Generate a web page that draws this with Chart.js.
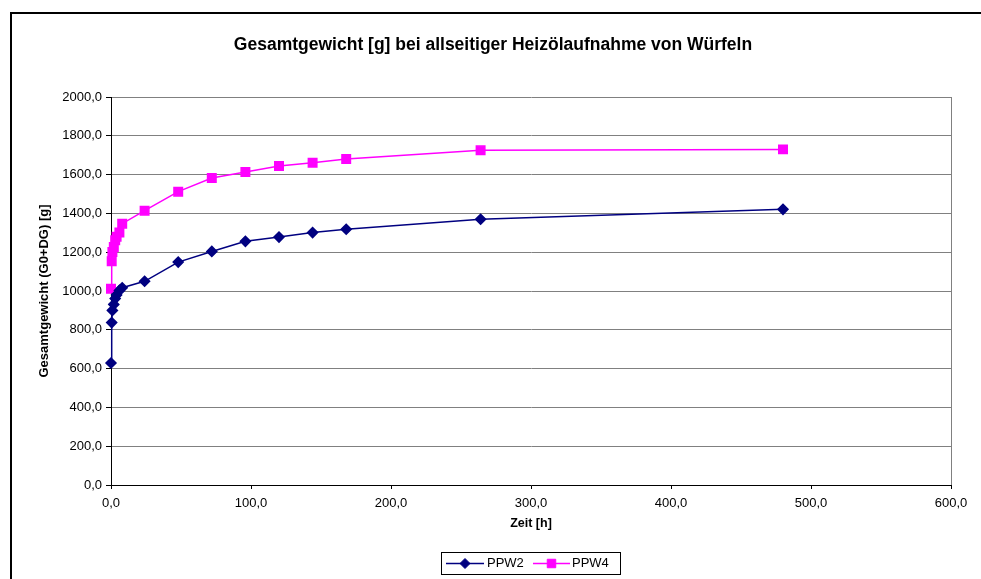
<!DOCTYPE html>
<html>
<head>
<meta charset="utf-8">
<script src="https://cdn.jsdelivr.net/npm/chart.js@4.4.0/dist/chart.umd.min.js"></script>
<style>
  html, body { margin: 0; padding: 0; background: #fff; }
  #wrap { width: 981px; height: 579px; }
</style>
</head>
<body>
<div id="wrap"><canvas id="chart" width="981" height="579"></canvas></div>
<script>
// Werte
const timeHours = [0, 0.5, 1, 2, 3, 4, 6, 8, 24, 48, 72, 96, 120, 144, 168, 264, 480];
const ppw2 = [629, 837, 900, 931, 961, 980, 1003, 1017, 1050, 1149, 1204, 1256, 1278, 1301, 1318, 1370, 1421];
const ppw4 = [1012, 1153, 1201, 1227, 1261, 1280, 1301, 1347, 1414, 1512, 1582, 1613, 1644, 1661, 1680, 1725, 1730];
const seriesNames = ["PPW2", "PPW4"];

const FONT = "'Liberation Sans', Arial, sans-serif";

function toPoints(ys) {
    return timeHours.map((t, i) => ({ x: t, y: ys[i] }));
}

function fmt(v) {
    return Number(v).toFixed(1).replace(".", ",");
}

// Rahmen, rechte Plotkante und Legende
const extras = {
    id: "extras",
    beforeDraw(chart) {
        const ctx = chart.ctx;
        ctx.save();
        ctx.strokeStyle = "#000";
        ctx.lineWidth = 2;
        ctx.strokeRect(11, 13, 1100, 1000);
        ctx.restore();
    },
    beforeDatasetsDraw(chart) {
        const { ctx, chartArea } = chart;
        ctx.save();
        ctx.strokeStyle = "#808080";
        ctx.lineWidth = 1;
        ctx.beginPath();
        ctx.moveTo(Math.round(chartArea.right) + 0.5, chartArea.top);
        ctx.lineTo(Math.round(chartArea.right) + 0.5, chartArea.bottom);
        ctx.stroke();
        ctx.restore();
    },
    afterDraw(chart) {
        const ctx = chart.ctx;
        ctx.save();
        ctx.strokeStyle = "#000";
        ctx.lineWidth = 1;
        ctx.strokeRect(441.5, 552.5, 179, 22);
        const items = [
            { ds: chart.data.datasets[0], x0: 446, x1: 484, text: 487 },
            { ds: chart.data.datasets[1], x0: 533, x1: 570, text: 572 },
        ];
        const y = 563.5;
        items.forEach(it => {
            ctx.strokeStyle = it.ds.borderColor;
            ctx.lineWidth = it.ds.borderWidth;
            ctx.beginPath();
            ctx.moveTo(it.x0, y);
            ctx.lineTo(it.x1, y);
            ctx.stroke();
            ctx.fillStyle = it.ds.pointBackgroundColor;
            ctx.strokeStyle = it.ds.pointBorderColor;
            ctx.lineWidth = 1;
            Chart.helpers.drawPoint(ctx, {
                pointStyle: it.ds.pointStyle,
                radius: it.ds.pointRadius,
                rotation: 0,
                borderWidth: 1
            }, (it.x0 + it.x1) / 2, y);
            ctx.fillStyle = "#000";
            ctx.font = "13px " + FONT;
            ctx.textBaseline = "middle";
            ctx.textAlign = "left";
            ctx.fillText(it.ds.label, it.text, y);
        });
        ctx.restore();
    }
};

const ctx = document.getElementById("chart").getContext("2d");
new Chart(ctx, {
    type: "scatter",
    data: {
        datasets: [
            {
                label: seriesNames[0],
                data: toPoints(ppw2),
                showLine: true,
                clip: false,
                borderColor: "#000080",
                backgroundColor: "#000080",
                pointBackgroundColor: "#000080",
                pointBorderColor: "#000080",
                borderWidth: 1.5,
                pointStyle: "rectRot",
                pointRadius: 5,
                tension: 0,
            },
            {
                label: seriesNames[1],
                data: toPoints(ppw4),
                showLine: true,
                clip: false,
                borderColor: "#FF00FF",
                backgroundColor: "#FF00FF",
                pointBackgroundColor: "#FF00FF",
                pointBorderColor: "#FF00FF",
                borderWidth: 1.5,
                pointStyle: "rect",
                pointRadius: 6,
                tension: 0,
            },
        ],
    },
    options: {
        responsive: false,
        animation: false,
        layout: { padding: { left: 35, right: 30, top: 0, bottom: 44 } },
        plugins: {
            legend: { display: false },
            tooltip: { enabled: false },
            title: {
                display: true,
                text: "Gesamtgewicht [g] bei allseitiger Heizölaufnahme von Würfeln",
                color: "#000",
                font: { family: FONT, size: 17.5, weight: "bold" },
                padding: { top: 35, bottom: 41 },
            },
        },
        scales: {
            x: {
                type: "linear",
                min: 0,
                max: 600,
                afterFit: s => { s.height = 50; },
                ticks: {
                    stepSize: 100,
                    color: "#000",
                    padding: 7,
                    maxRotation: 0,
                    font: { family: FONT, size: 13 },
                    callback: v => fmt(v),
                },
                grid: { drawOnChartArea: false, tickLength: 4, color: "#000", tickColor: "#000" },
                border: { color: "#000", width: 1 },
                title: {
                    display: true,
                    text: "Zeit [h]",
                    color: "#000",
                    font: { family: FONT, size: 12.5, weight: "bold" },
                    padding: { top: 0, bottom: 4 },
                },
            },
            y: {
                min: 0,
                max: 2000,
                afterFit: s => { s.width = 76; },
                ticks: {
                    stepSize: 200,
                    color: "#000",
                    padding: 4,
                    font: { family: FONT, size: 13 },
                    callback: v => fmt(v),
                },
                grid: { color: "#808080", tickColor: "#000", tickLength: 5, lineWidth: 1 },
                border: { color: "#000", width: 1 },
                title: {
                    display: true,
                    text: "Gesamtgewicht (G0+DG) [g]",
                    color: "#000",
                    font: { family: FONT, size: 13, weight: "bold" },
                    padding: { top: 2, bottom: 0 },
                },
            },
        },
    },
    plugins: [extras],
});
</script>
</body>
</html>
